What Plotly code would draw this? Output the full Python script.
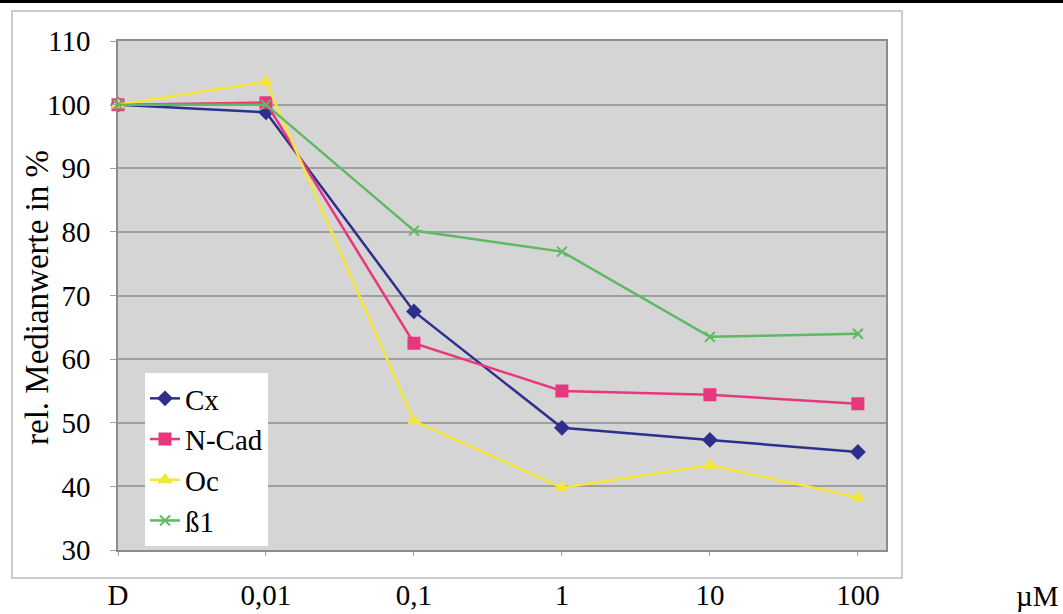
import plotly.graph_objects as go

categories = ["D", "0,01", "0,1", "1", "10", "100"]
cx = [100, 98.8, 67.5, 49.2, 47.3, 45.4]
ncad = [100, 100.3, 62.5, 55.0, 54.4, 53.0]
oc = [100, 103.6, 50.3, 39.8, 43.3, 38.3]
b1 = [100, 100.0, 80.2, 76.9, 63.5, 64.0]
series_names = ["Cx", "N-Cad", "Oc", "ß1"]
y_ticks = [30, 40, 50, 60, 70, 80, 90, 100, 110]
unit_label = "µM"
y_title = "rel. Medianwerte in %"

FONT = "Liberation Serif"

colors = ["#2E2F8C", "#E8377E", "#F4E63C", "#5DBA62"]
symbols = ["diamond", "square", "triangle-up", "x-thin"]
sizes = [10, 11, 10, 10]

fig = go.Figure()
for name, vals, col, sym, sz in zip(series_names, [cx, ncad, oc, b1], colors, symbols, sizes):
    fig.add_trace(go.Scatter(
        x=categories, y=vals, name=name, mode="lines+markers",
        line=dict(color=col, width=2.5),
        marker=dict(symbol=sym, size=sz, color=col, line=dict(color=col, width=2)),
        cliponaxis=False,
    ))

W, H = 1063, 614
L, R, T, B = 118, 886, 41, 550
pw, ph = R - L, B - T

def px(x):
    return (x - L) / pw

def py(y):
    return (B - y) / ph

fig.update_layout(
    width=W, height=H,
    margin=dict(l=L, r=W - R, t=T, b=H - B, autoexpand=False),
    paper_bgcolor="white",
    plot_bgcolor="#D5D5D5",
    font=dict(family=FONT, size=29, color="black"),
    showlegend=True,
    legend=dict(
        x=px(145), y=py(373), xanchor="left", yanchor="top",
        bgcolor="white", borderwidth=0,
        font=dict(family=FONT, size=29, color="black"),
        itemwidth=30, tracegroupgap=0,
    ),
    xaxis=dict(
        type="category", range=[0, 5.19], automargin=False,
        showgrid=False, showline=True, linecolor="#8C8C8C", linewidth=1.5,
        mirror=True, ticks="outside", ticklen=4, tickcolor="#A0A0A0",
        ticklabelstandoff=14,
        tickfont=dict(family=FONT, size=29, color="black"),
        zeroline=False,
    ),
    yaxis=dict(
        range=[30, 110], tickvals=y_ticks, automargin=False,
        showgrid=True, gridcolor="#9E9E9E", gridwidth=1.5,
        showline=True, linecolor="#8C8C8C", linewidth=1.5, mirror=True,
        ticks="outside", ticklen=6, tickcolor="#A0A0A0",
        ticklabelstandoff=14,
        tickfont=dict(family=FONT, size=29, color="black"),
        zeroline=False,
    ),
    shapes=[
        dict(type="rect", xref="paper", yref="paper",
             x0=px(12), x1=px(902), y0=py(578), y1=py(11),
             line=dict(color="#CCCCCC", width=2), fillcolor="rgba(0,0,0,0)", layer="below"),
        dict(type="rect", xref="paper", yref="paper",
             x0=px(0), x1=px(W), y0=py(3), y1=py(0),
             line=dict(width=0), fillcolor="black"),
    ],
    annotations=[
        dict(text=y_title, xref="paper", yref="paper", x=px(37), y=py(298),
             textangle=-90, showarrow=False, xanchor="center", yanchor="middle",
             font=dict(family=FONT, size=33, color="black")),
        dict(text=unit_label, xref="paper", yref="paper", x=px(1037), y=py(596),
             showarrow=False, xanchor="center", yanchor="middle",
             font=dict(family=FONT, size=29, color="black")),
    ],
)

fig.write_html(
    "out.html",
    config={"displayModeBar": False},
    post_script="document.body.style.margin='0px';document.body.style.overflow='hidden';",
)
